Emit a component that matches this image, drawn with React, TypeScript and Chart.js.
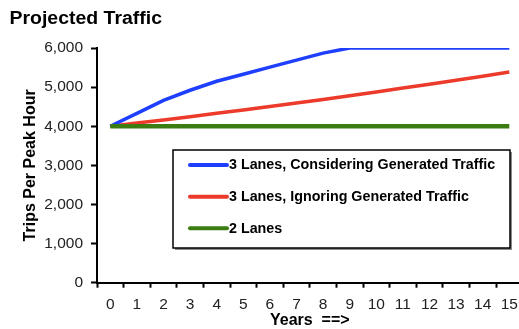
import React, { useEffect, useRef } from 'react';
import { Chart, registerables } from 'chart.js';

Chart.register(...registerables);

const TITLE = 'Projected Traffic';
const Y_TITLE = 'Trips Per Peak Hour';
const X_TITLE = 'Years  ==>';

const years = ['0', '1', '2', '3', '4', '5', '6', '7', '8', '9', '10', '11', '12', '13', '14', '15'];
const considering = [4000, 4330, 4660, 4920, 5150, 5330, 5510, 5690, 5870, 6000, 6000, 6000, 6000, 6000, 6000, 6000];
const ignoring = [4000, 4080, 4160, 4245, 4330, 4415, 4505, 4595, 4685, 4780, 4875, 4975, 5075, 5175, 5280, 5385];
const twoLanes = [4000, 4000, 4000, 4000, 4000, 4000, 4000, 4000, 4000, 4000, 4000, 4000, 4000, 4000, 4000, 4000];

const seriesLabels = [
  '3 Lanes, Considering Generated Traffic',
  '3 Lanes, Ignoring Generated Traffic',
  '2 Lanes',
];
const seriesColors = ['#1f3fff', '#ec3b2a', '#3b7d10'];
const seriesWidths = [3.5, 3.5, 4.5];

const Y_MIN = 0;
const Y_MAX = 6000;
const Y_STEP = 1000;

const FONT = '"Liberation Sans", Arial, Helvetica, sans-serif';

const overlayPlugin = {
  id: 'overlay',
  afterDraw(chart: any) {
    const ctx = chart.ctx as CanvasRenderingContext2D;
    ctx.save();
    // title (slightly wide lettering, as in the reference)
    ctx.font = `bold 17.5px ${FONT}`;
    ctx.fillStyle = '#000';
    ctx.textBaseline = 'middle';
    ctx.textAlign = 'left';
    const w = ctx.measureText(TITLE).width;
    const sx = 152.5 / w;
    ctx.save();
    ctx.translate(9.5, 19);
    ctx.scale(sx, 1);
    ctx.fillText(TITLE, 0, 0);
    ctx.restore();

    // legend box
    const bx = 173, by = 150, bw = 337, bh = 98;
    ctx.fillStyle = '#8a8a8a';
    ctx.fillRect(bx + 2, by + 2, bw, bh);
    ctx.fillStyle = '#fff';
    ctx.fillRect(bx, by, bw, bh);
    ctx.strokeStyle = '#000';
    ctx.lineWidth = 1.5;
    ctx.strokeRect(bx, by, bw, bh);

    const rowY = [165, 196.7, 228.3];
    chart.data.datasets.forEach((ds: any, i: number) => {
      const y = rowY[i];
      ctx.strokeStyle = ds.borderColor;
      ctx.lineWidth = 4;
      ctx.lineCap = 'round';
      ctx.beginPath();
      ctx.moveTo(190, y);
      ctx.lineTo(227, y);
      ctx.stroke();
      ctx.fillStyle = '#000';
      ctx.font = `bold 14.3px ${FONT}`;
      ctx.textAlign = 'left';
      ctx.textBaseline = 'middle';
      ctx.fillText(ds.label, 229, y + 0.5);
    });
    ctx.restore();
  },
};

export default function App() {
  const canvasRef = useRef<HTMLCanvasElement | null>(null);

  useEffect(() => {
    const canvas = canvasRef.current;
    if (!canvas) return;
    const datasets = [considering, ignoring, twoLanes].map((data, i) => ({
      label: seriesLabels[i],
      data,
      borderColor: seriesColors[i],
      backgroundColor: seriesColors[i],
      borderWidth: seriesWidths[i],
      pointRadius: 0,
      tension: 0,
      fill: false,
      order: i === 2 ? 0 : i + 1,
    }));

    const chart = new Chart(canvas, {
      type: 'line',
      data: { labels: years, datasets },
      options: {
        animation: false,
        responsive: false,
        devicePixelRatio: 1,
        layout: { padding: { left: 0, top: 48, right: 22.4, bottom: 0 } },
        plugins: {
          legend: { display: false },
          tooltip: { enabled: false },
          title: { display: false },
        },
        scales: {
          x: {
            type: 'category',
            offset: true,
            grid: {
              offset: true,
              drawOnChartArea: false,
              drawTicks: true,
              tickLength: 5,
              tickColor: '#000',
              tickWidth: 2,
            },
            border: { display: true, color: '#000', width: 2 },
            ticks: {
              color: '#222',
              font: { family: FONT, size: 15.5 },
              padding: 8,
              maxRotation: 0,
              autoSkip: false,
            },
            title: {
              display: true,
              text: X_TITLE,
              color: '#000',
              font: { family: FONT, size: 16, weight: 'bold', lineHeight: 1 },
              padding: { top: 0, bottom: 0 },
            },
            afterFit(scale: any) {
              scale.height = 46.3;
            },
          },
          y: {
            min: Y_MIN,
            max: Y_MAX,
            grid: {
              drawOnChartArea: false,
              drawTicks: true,
              tickLength: 6,
              tickColor: '#000',
              tickWidth: 2,
            },
            border: { display: true, color: '#000', width: 2 },
            ticks: {
              stepSize: Y_STEP,
              color: '#222',
              font: { family: FONT, size: 15.5 },
              padding: 8,
            },
            title: {
              display: true,
              text: Y_TITLE,
              color: '#000',
              font: { family: FONT, size: 16, weight: 'bold', lineHeight: 1.2 },
              padding: { top: 21, bottom: 0 },
            },
            afterFit(scale: any) {
              scale.width = 97;
            },
          },
        },
      },
      plugins: [overlayPlugin],
    });
    return () => chart.destroy();
  }, []);

  return (
    <div
      style={{
        position: 'fixed',
        left: 0,
        top: 0,
        width: 519,
        height: 329,
        overflow: 'hidden',
        background: '#fff',
      }}
    >
      <canvas ref={canvasRef} width={545} height={329} style={{ display: 'block' }} />
    </div>
  );
}
